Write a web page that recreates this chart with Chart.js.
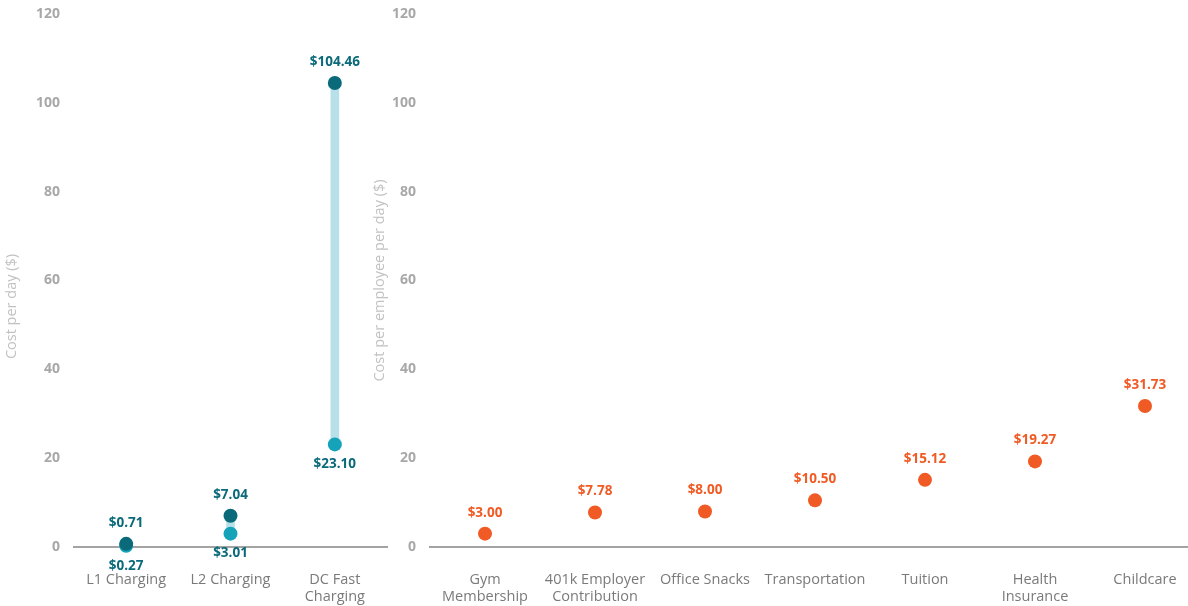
<!DOCTYPE html>
<html>
<head>
<meta charset="utf-8">
<title>EV charging cost vs employee benefits</title>
<script src="https://cdn.jsdelivr.net/npm/chart.js@4.4.1/dist/chart.umd.min.js"></script>
<style>
  html, body { margin: 0; padding: 0; background: #fff; overflow: hidden; }
  body { width: 1188px; height: 606px; position: relative; }
  .box { position: absolute; top: 0; height: 606px; }
  #chargingBox { left: 0; width: 394px; }
  #benefitsBox { left: 368px; width: 839px; }
</style>
</head>
<body>
<div class="box" id="chargingBox"><canvas id="chargingChart"></canvas></div>
<div class="box" id="benefitsBox"><canvas id="benefitsChart"></canvas></div>

<script>
// charging cost per day, low and high estimate
const chargingTypes = ["L1 Charging", "L2 Charging", ["DC Fast", "Charging"]];
const chargingLow = [0.27, 3.01, 23.10];
const chargingHigh = [0.71, 7.04, 104.46];

// common benefits, cost per employee per day
const benefitNames = [["Gym", "Membership"], ["401k Employer", "Contribution"], "Office Snacks",
  "Transportation", "Tuition", ["Health", "Insurance"], "Childcare"];
const benefitCosts = [3.00, 7.78, 8.00, 10.50, 15.12, 19.27, 31.73];

const yMin = 0, yMax = 120, yStep = 20;

const FONT = "'Open Sans', 'DejaVu Sans', sans-serif";
const TEAL_DARK = "#0b6a7a";
const TEAL_LIGHT = "#14a3b9";
const TEAL_BAR = "#b7e0e9";
const ORANGE = "#f05a24";

// writes "$x.xx" above or below each point
const valueLabels = {
  id: "valueLabels",
  afterDatasetsDraw(chart) {
    const ctx = chart.ctx;
    chart.data.datasets.forEach((ds, i) => {
      if (!ds.labelPos) return;
      const meta = chart.getDatasetMeta(i);
      ctx.save();
      ctx.font = "bold 13.5px " + FONT;
      ctx.fillStyle = ds.labelColor;
      ctx.textAlign = "center";
      ctx.textBaseline = "middle";
      meta.data.forEach((pt, j) => {
        const dy = ds.labelPos === "above" ? -21 : 20;
        ctx.fillText("$" + ds.data[j].toFixed(2), pt.x, pt.y + dy);
      });
      ctx.restore();
    });
  }
};

// rotated y-axis title, placed by hand so it can sit off-centre
const sideTitle = {
  id: "sideTitle",
  afterDraw(chart, args, opts) {
    const ctx = chart.ctx;
    const area = chart.chartArea;
    ctx.save();
    ctx.translate(opts.x, (area.top + area.bottom) / 2 + (opts.shift || 0));
    ctx.rotate(-Math.PI / 2);
    ctx.font = "14.5px " + FONT;
    ctx.fillStyle = "#c2c2c2";
    ctx.textAlign = "center";
    ctx.textBaseline = "middle";
    ctx.fillText(opts.text, 0, 0);
    ctx.restore();
  }
};

function baseScales(yWidth) {
  return {
    x: {
      grid: { display: false, drawTicks: false },
      border: { display: true, color: "#a3a3a3", width: 2 },
      ticks: { color: "#7a7a7a", font: { family: FONT, size: 14.5 }, padding: 24, maxRotation: 0, autoSkip: false },
      afterFit: (s) => { s.height = 59; }
    },
    y: {
      min: yMin, max: yMax,
      grid: { display: false, drawTicks: false },
      border: { display: false },
      ticks: { stepSize: yStep, color: "#a8a8a8", font: { family: FONT, size: 14, weight: "bold" }, padding: 14 },
      afterFit: (s) => {
        s.width = yWidth;
        // only leave room for half a tick label above the top value
        s.paddingTop = 7;
        s.paddingBottom = 7;
      }
    }
  };
}

function chartOptions(yWidth, title) {
  return {
    responsive: true,
    maintainAspectRatio: false,
    animation: false,
    layout: { padding: { top: 14, right: 0, bottom: 0, left: 0 } },
    plugins: {
      legend: { display: false },
      tooltip: { enabled: false },
      sideTitle: title
    },
    scales: baseScales(yWidth)
  };
}

new Chart(document.getElementById("chargingChart"), {
  type: "bar",
  data: {
    labels: chargingTypes,
    datasets: [
      {
        type: "line",
        data: chargingHigh,
        showLine: false,
        pointRadius: 7,
        pointBackgroundColor: TEAL_DARK,
        pointBorderWidth: 0,
        clip: false,
        order: 1,
        labelPos: "above",
        labelColor: TEAL_DARK
      },
      {
        type: "line",
        data: chargingLow,
        showLine: false,
        pointRadius: 7,
        pointBackgroundColor: TEAL_LIGHT,
        pointBorderWidth: 0,
        clip: false,
        order: 2,
        labelPos: "below",
        labelColor: TEAL_DARK
      },
      {
        // connector between low and high
        data: chargingLow.map((v, i) => [v, chargingHigh[i]]),
        backgroundColor: TEAL_BAR,
        barThickness: 8,
        borderSkipped: false,
        order: 3
      }
    ]
  },
  options: chartOptions(74, { text: "Cost per day ($)", x: 12, shift: 26 }),
  plugins: [valueLabels, sideTitle]
});

new Chart(document.getElementById("benefitsChart"), {
  type: "bar",
  data: {
    labels: benefitNames,
    datasets: [
      {
        type: "line",
        data: benefitCosts,
        showLine: false,
        pointRadius: 7,
        pointBackgroundColor: ORANGE,
        pointBorderWidth: 0,
        clip: false,
        labelPos: "above",
        labelColor: ORANGE
      }
    ]
  },
  options: chartOptions(62, { text: "Cost per employee per day ($)", x: 12, shift: 0 }),
  plugins: [valueLabels, sideTitle]
});
</script>
</body>
</html>
